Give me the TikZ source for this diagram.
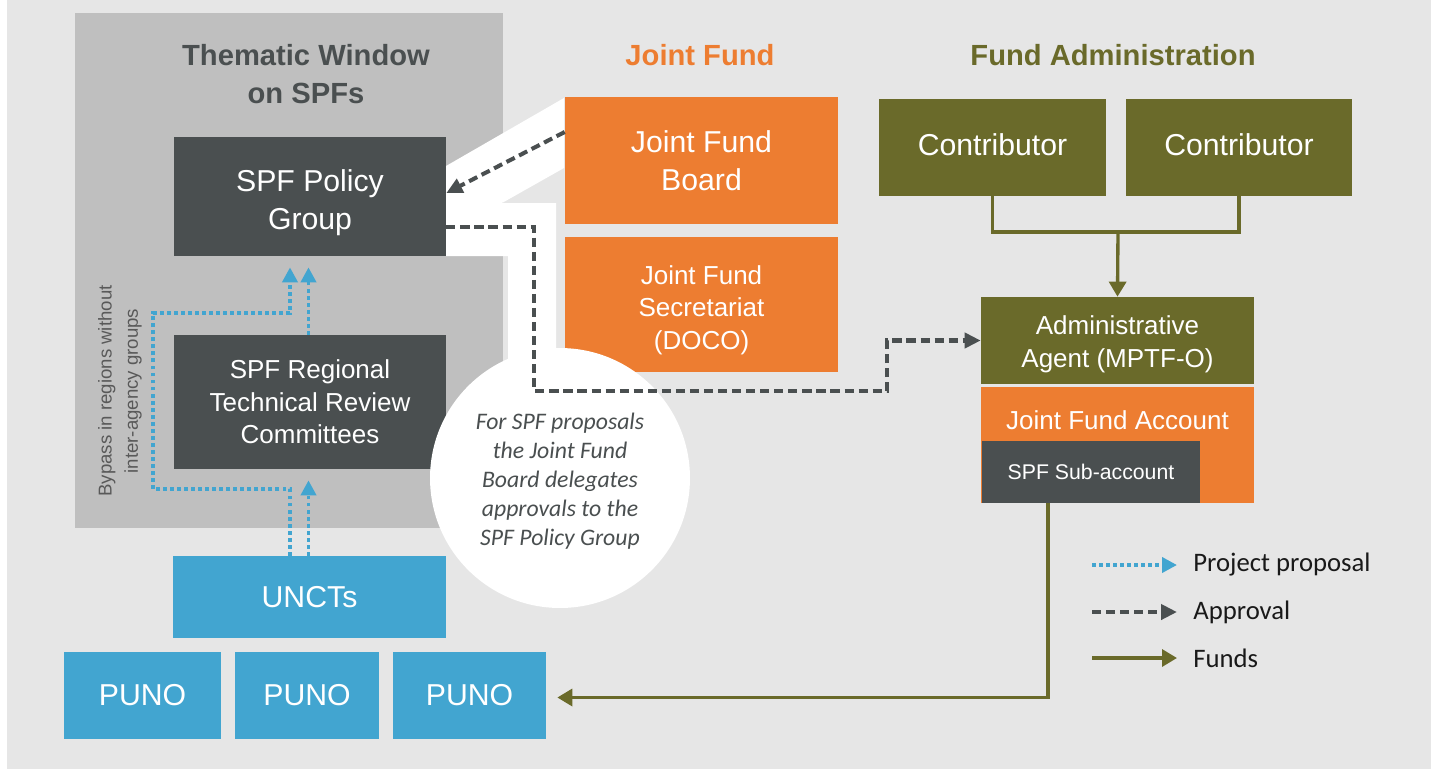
\documentclass[tikz,border=0pt]{standalone}
\usepackage{fontspec}
\setmainfont{Liberation Sans}
\newfontfamily\calfont{Carlito}
\usetikzlibrary{arrows.meta,positioning}

\definecolor{bgGray}{HTML}{E6E6E6}
\definecolor{winGray}{HTML}{BFBFBF}
\definecolor{darkGray}{HTML}{4A4F50}
\definecolor{jfOrange}{HTML}{ED7D31}
\definecolor{olive}{HTML}{6A6A2A}
\definecolor{spfBlue}{HTML}{42A5D0}

\begin{document}
\begin{tikzpicture}[x=0.02cm,y=-0.02cm,
  box/.style={fill=#1,text=white,inner sep=0pt,align=center},
  lbl/.style={text=white,inner sep=0pt,align=center},
  bigtxt/.style={font=\fontsize{17.2}{21.5}\selectfont},
  midtxt/.style={font=\fontsize{14.8}{18.6}\selectfont},
  smalltxt/.style={font=\fontsize{12.1}{14}\selectfont},
  heading/.style={font=\fontsize{16.6}{21.6}\selectfont\bfseries,align=center},
  proposal/.style={->,>={Triangle[length=0.3cm,width=0.3cm]},draw=spfBlue,
    line width=2.2pt,dash pattern=on 2.2pt off 1.8pt},
  approval/.style={->,>={Triangle[length=0.32cm,width=0.3cm]},draw=darkGray,
    line width=2.3pt,dash pattern=on 5.2pt off 2.8pt},
  funds/.style={->,>={Triangle[length=0.3cm,width=0.34cm]},draw=olive,line width=1.9pt},
  legendtxt/.style={font=\calfont\fontsize{15.2}{18}\selectfont,text=black!90,anchor=west,inner sep=0pt}]

\useasboundingbox (0,0) rectangle (1431,769);
\fill[bgGray] (7,0) rectangle (1431,769);

% thematic window
\node[fill=winGray,minimum width=8.56cm,minimum height=10.3cm] (window) at (289,270.5) {};
\node[heading,text=darkGray] (twTitle) at (306,74) {Thematic Window\\on SPFs};

% white band behind the approval lines
\fill[white] (564,98) -- (446,166) -- (446,256) -- (508,256) -- (508,420)
  -- (556,420) -- (556,203) -- (502,203) -- (564,168) -- cycle;

\node[heading,text=jfOrange] (jfTitle) at (700,55) {Joint Fund};
\node[heading,text=olive] (faTitle) at (1113,55) {Fund Administration};

\node[box=darkGray,minimum width=5.44cm,minimum height=2.38cm,
  label={[lbl,bigtxt,yshift=-0.12cm]center:{SPF Policy\\Group}}] (policy) at (310,196.5) {};
\node[box=darkGray,midtxt,minimum width=5.44cm,minimum height=2.68cm] (regional) at (310,402) {SPF Regional\\Technical Review\\Committees};
\node[box=spfBlue,bigtxt,minimum width=5.46cm,minimum height=1.64cm] (uncts) at (309.5,597) {UNCTs};
\node[box=spfBlue,bigtxt,minimum width=3.14cm,minimum height=1.74cm] (punoA) at (142.5,695.5) {PUNO};
\node[box=spfBlue,bigtxt,minimum width=2.88cm,minimum height=1.74cm] (punoB) at (307,695.5) {PUNO};
\node[box=spfBlue,bigtxt,minimum width=3.06cm,minimum height=1.74cm] (punoC) at (469.5,695.5) {PUNO};

\node[box=jfOrange,bigtxt,minimum width=5.46cm,minimum height=2.54cm] (jfb) at (701.5,160.5) {Joint Fund\\Board};
\node[box=jfOrange,minimum width=5.46cm,minimum height=2.7cm,
  label={[lbl,midtxt,yshift=-0.11cm]center:{Joint Fund\\Secretariat\\(DOCO)}}] (jfs) at (701.5,304.5) {};

\node[box=olive,minimum width=4.54cm,minimum height=1.94cm,
  label={[lbl,bigtxt,yshift=0.06cm]center:Contributor}] (contribA) at (992.5,147.5) {};
\node[box=olive,minimum width=4.52cm,minimum height=1.94cm,
  label={[lbl,bigtxt,yshift=0.06cm]center:Contributor}] (contribB) at (1239,147.5) {};
\node[box=olive,minimum width=5.46cm,minimum height=1.74cm,
  label={[lbl,midtxt,yshift=-0.08cm]center:{Administrative\\Agent (MPTF-O)}}] (agent) at (1117.5,340.5) {};
\node[box=jfOrange,minimum width=5.46cm,minimum height=2.32cm] (account) at (1117.5,445) {};
\node[lbl,midtxt] (accountLbl) at (1117.5,420) {Joint Fund Account};
\node[box=darkGray,smalltxt,minimum width=4.36cm,minimum height=1.24cm] (subacct) at (1091,472) {SPF Sub-account};

\node[text=black!65,rotate=90,align=center,inner sep=0pt,font=\fontsize{10.6}{15}\selectfont] (bypassLbl) at (120,391) {Bypass in regions without\\inter-agency groups};

% note circle
\node[circle,fill=white,minimum size=5.2cm,
  label={[align=center,text=darkGray,yshift=-0.06cm,
  font=\calfont\itshape\fontsize{13.5}{16.6}\selectfont]center:{For SPF proposals\\the Joint Fund\\Board delegates\\approvals to the\\SPF Policy Group}}] (note) at (560,478) {};

% project proposals
\coordinate (pL) at (290,0);
\coordinate (pR) at (308.5,0);
\coordinate (bypassA) at (153,489);
\coordinate (bypassB) at (153,313);
\draw[proposal,shorten >=0.22cm] (uncts.north -| pR) -- (regional.south -| pR);
\draw[proposal,shorten >=0.22cm] (regional.north -| pR) -- (policy.south -| pR);
\draw[proposal,shorten >=0.22cm] (uncts.north -| pL) |- (bypassA) -- (bypassB) -| (policy.south -| pL);

% approvals
\coordinate (apA) at (534,391);
\coordinate (apB) at (887,391);
\draw[approval] ([yshift=0.57cm]jfb.west) -- ([yshift=0.07cm]policy.east);
\draw[approval] ([yshift=-0.61cm]policy.east) -| (apA) -- (apB) |- (agent.west);

% funds
\coordinate (fundJoin) at (1118,232);
\draw[funds,-] (contribA.south) |- (fundJoin) -| (contribB.south);
\draw[funds] (fundJoin) -- (agent.north);
\draw[funds,shorten >=0.22cm] ([xshift=-0.86cm]subacct.south) |- ([yshift=-0.04cm]punoC.east);

% legend
\node[legendtxt] (lgProp) at (1193,565) {Project proposal};
\node[legendtxt] (lgAppr) at (1193,612) {Approval};
\node[legendtxt] (lgFund) at (1193,658) {Funds};
\coordinate (lgA) at (1092,565);
\coordinate (lgB) at (1092,612);
\coordinate (lgC) at (1092,658);
\draw[proposal,shorten >=0.32cm] (lgA) -- (lgProp.west);
\draw[approval,shorten >=0.32cm] (lgB) -- (lgAppr.west);
\draw[funds,shorten >=0.32cm] (lgC) -- (lgFund.west);
\end{tikzpicture}
\end{document}
